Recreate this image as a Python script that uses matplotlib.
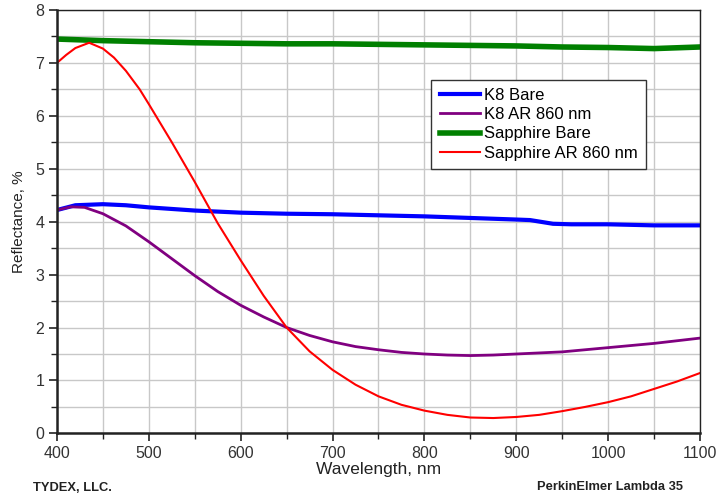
import matplotlib

matplotlib.use("Agg")
import matplotlib.pyplot as plt
from matplotlib.ticker import MultipleLocator

# values (wavelength nm -> reflectance %)
k8_bare_nm = [400, 420, 450, 475, 500, 550, 600, 650, 700, 750, 800, 850, 900, 915, 940, 960, 1000, 1050, 1100]
k8_bare = [4.22, 4.31, 4.33, 4.31, 4.27, 4.21, 4.17, 4.15, 4.14, 4.12, 4.10, 4.07, 4.04, 4.03, 3.96, 3.95, 3.95, 3.93, 3.93]

k8_ar_nm = [400, 415, 430, 450, 475, 500, 525, 550, 575, 600, 625, 650, 675, 700, 725, 750, 775, 800,
            825, 850, 875, 900, 925, 950, 975, 1000, 1025, 1050, 1075, 1100]
k8_ar = [4.22, 4.28, 4.27, 4.15, 3.92, 3.62, 3.30, 2.98, 2.68, 2.42, 2.20, 2.00, 1.85, 1.73, 1.64, 1.58, 1.53, 1.50,
         1.48, 1.47, 1.48, 1.50, 1.52, 1.54, 1.58, 1.62, 1.66, 1.70, 1.75, 1.80]

sapph_bare_nm = [400, 450, 500, 550, 600, 650, 700, 750, 800, 850, 900, 950, 1000, 1050, 1100]
sapph_bare = [7.45, 7.42, 7.40, 7.38, 7.37, 7.36, 7.36, 7.35, 7.34, 7.33, 7.32, 7.30, 7.29, 7.27, 7.30]

sapph_ar_nm = [400, 410, 420, 435, 450, 462, 475, 490, 500, 525, 550, 575, 600, 625, 650, 675, 700, 725, 750, 775,
               800, 825, 850, 875, 900, 925, 950, 975, 1000, 1025, 1050, 1075, 1100]
sapph_ar = [7.00, 7.15, 7.28, 7.38, 7.27, 7.10, 6.85, 6.50, 6.22, 5.50, 4.75, 3.97, 3.27, 2.60, 2.00, 1.55, 1.20,
            0.92, 0.70, 0.54, 0.43, 0.35, 0.30, 0.29, 0.31, 0.35, 0.42, 0.50, 0.59, 0.70, 0.84, 0.98, 1.14]

plt.rcParams["font.family"] = ["Liberation Sans", "DejaVu Sans"]

fig = plt.figure(figsize=(7.16, 4.97), dpi=100)
ax = fig.add_axes([0.0796, 0.128, 0.898, 0.852])

ax.plot(k8_bare_nm, k8_bare, color="#0000ff", lw=3.0, label="K8 Bare")
ax.plot(k8_ar_nm, k8_ar, color="#800080", lw=2.0, label="K8 AR 860 nm")
ax.plot(sapph_bare_nm, sapph_bare, color="#008000", lw=4.0, label="Sapphire Bare")
ax.plot(sapph_ar_nm, sapph_ar, color="#ff0000", lw=1.5, label="Sapphire AR 860 nm")

ax.set_xlim(400, 1100)
ax.set_ylim(0, 8)
ax.xaxis.set_major_locator(MultipleLocator(100))
ax.xaxis.set_minor_locator(MultipleLocator(50))
ax.yaxis.set_major_locator(MultipleLocator(1))
ax.yaxis.set_minor_locator(MultipleLocator(0.5))
ax.grid(which="both", color="#c8c8c8", lw=1.0)
ax.set_axisbelow(True)
ax.tick_params(which="major", direction="out", length=6, width=1.2, labelsize=11.5, colors="#222222",
               labelcolor="#333333", pad=3)
ax.tick_params(which="minor", direction="out", length=4, width=1.0, colors="#222222")
for side in ("left", "bottom"):
    ax.spines[side].set_linewidth(1.8)
    ax.spines[side].set_color("#222222")
for side in ("top", "right"):
    ax.spines[side].set_linewidth(1.0)
    ax.spines[side].set_color("#222222")

ax.set_xlabel("Wavelength, nm", fontsize=12.5, color="#222222", labelpad=1)
ax.set_ylabel("Reflectance, %", fontsize=11, color="#222222", labelpad=7)

leg = ax.legend(loc="upper left", bbox_to_anchor=(0.582, 0.835), borderaxespad=0, fontsize=12,
                fancybox=False, framealpha=1, edgecolor="#333333", handlelength=2.4, handletextpad=0.25,
                borderpad=0.5, labelspacing=0.25)
leg.get_frame().set_linewidth(1.0)

fig.text(0.046, 0.018, "TYDEX, LLC.", fontsize=9.3, fontweight="bold", color="#222222", va="center")
fig.text(0.954, 0.02, "PerkinElmer Lambda 35", fontsize=9.3, fontweight="bold", color="#222222",
         va="center", ha="right")

fig.savefig("out.png", dpi=100)
